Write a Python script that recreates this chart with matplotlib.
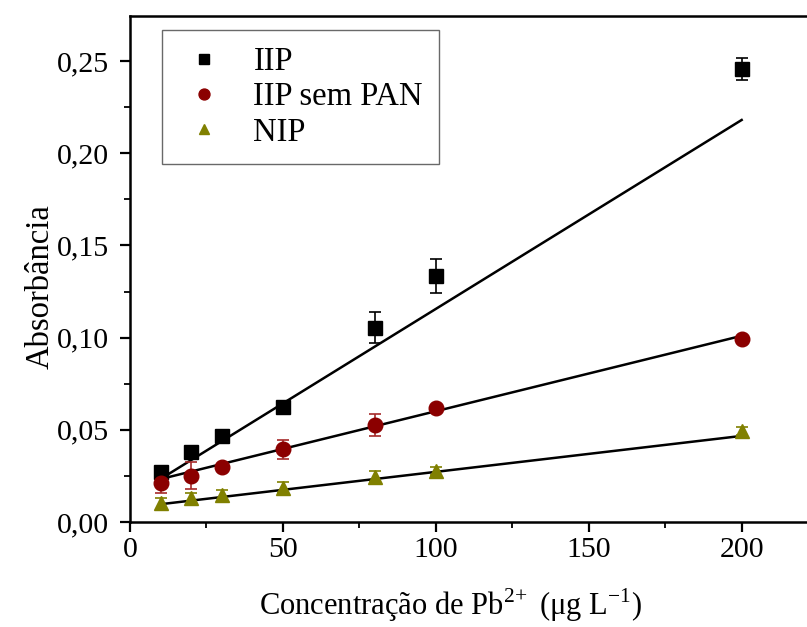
import numpy as np
import matplotlib
matplotlib.use("Agg")
import matplotlib.pyplot as plt
from matplotlib.ticker import MultipleLocator, FuncFormatter

plt.rcParams['font.family'] = ['Liberation Serif', 'DejaVu Serif']
plt.rcParams['mathtext.fontset'] = 'custom'
plt.rcParams['mathtext.rm'] = 'Liberation Serif'

# concentration of Pb2+ (ug/L)
conc = [10, 20, 30, 50, 80, 100, 200]

iip = [0.0273, 0.0382, 0.0468, 0.0626, 0.1054, 0.1334, 0.2457]
iip_err = [0.0015, 0.0015, 0.0025, 0.0015, 0.0083, 0.0093, 0.0061]

iip_pan = [0.0210, 0.0251, 0.0300, 0.0394, 0.0528, 0.0618, 0.0992]
iip_pan_err = [0.0052, 0.0074, 0.0015, 0.0053, 0.0059, 0.0015, 0.0015]

nip = [0.0101, 0.0128, 0.0146, 0.0186, 0.0246, 0.0277, 0.0493]
nip_err = [0.003, 0.003, 0.003, 0.003, 0.003, 0.002, 0.002]

# linear fits (slope, intercept)
fit_slope = [0.001025, 0.000409, 0.000195]
fit_intercept = [0.0131, 0.0192, 0.0077]

fig = plt.figure(figsize=(8.07, 6.27), dpi=100)
ax = fig.add_axes([130/807, 1 - 522/627, 682/807, 506/627])

series = [
    (iip, iip_err, 's', 'black', 'black', 'IIP'),
    (iip_pan, iip_pan_err, 'o', '#8b0000', '#a52a2a', 'IIP sem PAN'),
    (nip, nip_err, '^', '#808000', '#808000', 'NIP'),
]
for vals, err, mk, col, ecol, lab in series:
    ax.errorbar(conc, vals, yerr=err, fmt=mk, color=col, ecolor=ecol,
                markersize=10.5, elinewidth=1.2, capsize=4, capthick=1.2,
                label=lab, zorder=3)

xfit = np.array([conc[0], conc[-1]])
for s, b in zip(fit_slope, fit_intercept):
    ax.plot(xfit, s * xfit + b, color='black', lw=1.8, zorder=2)

ax.set_xlim(0, 223)
ax.set_ylim(0, 0.2745)
ax.xaxis.set_major_locator(MultipleLocator(50))
ax.xaxis.set_minor_locator(MultipleLocator(25))
ax.yaxis.set_major_locator(MultipleLocator(0.05))
ax.yaxis.set_minor_locator(MultipleLocator(0.025))
ax.yaxis.set_major_formatter(FuncFormatter(lambda v, p: f"{v:.2f}".replace('.', ',')))

ax.tick_params(which='major', direction='out', length=7, width=1.6, labelsize=21.5)
ax.tick_params(axis='y', which='major', pad=8)
ax.tick_params(axis='x', which='major', pad=4)
ax.tick_params(which='minor', direction='out', length=4, width=1.3)
ax.tick_params(top=False, right=False)
for sp in ax.spines.values():
    sp.set_linewidth(1.8)

ax.set_ylabel('Absorbância', fontsize=23.5)
ax.yaxis.set_label_coords((56 - 130) / 682, (522 - 287) / 506)
ax.set_xlabel(r'Concentração de Pb$^{2\!+}$ ($\mathrm{\mu}$g L$^{-1}$)', fontsize=22)
ax.xaxis.set_label_coords((450 - 130) / 682, -(605 - 522) / 506)
ax.xaxis.label.set_va('center')

handles, labels = ax.get_legend_handles_labels()
handles = [h[0] for h in handles]
leg = ax.legend(handles, labels, loc='upper left', bbox_to_anchor=(0.047, 0.972), fontsize=23.5,
                frameon=True, fancybox=False, edgecolor='#444444',
                markerscale=0.75, handletextpad=0.7, borderpad=0.5,
                labelspacing=0.15, handlelength=1.6, borderaxespad=0)
leg.get_frame().set_linewidth(1.0)

fig.savefig('out.png', dpi=100)
